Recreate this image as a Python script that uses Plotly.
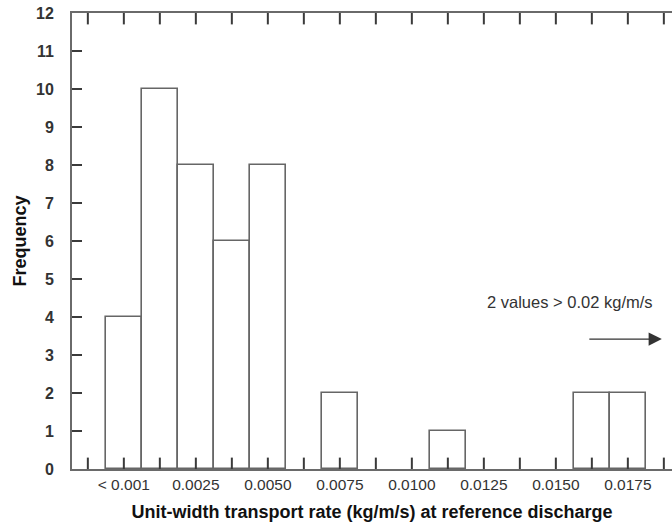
import plotly.graph_objects as go

# Data
bin_centers = [0.0, 0.00125, 0.0025, 0.00375, 0.005, 0.0075, 0.01125, 0.01625, 0.0175]
frequencies = [4, 10, 8, 6, 8, 2, 1, 2, 2]
bin_width = 0.00125

label_vals = [0.0, 0.0025, 0.005, 0.0075, 0.01, 0.0125, 0.015, 0.0175]
label_texts = ["< 0.001", "0.0025", "0.0050", "0.0075", "0.0100", "0.0125", "0.0150", "0.0175"]

# minor ticks every bin width, labels at selected ones
tick_vals = [round(k * bin_width, 6) for k in range(-1, 16)]
tick_texts = []
for v in tick_vals:
    txt = ""
    for lv, lt in zip(label_vals, label_texts):
        if abs(lv - v) < 1e-9:
            txt = lt
    tick_texts.append(txt)

FONT = "Liberation Sans, Arial, Helvetica, sans-serif"
AXC = "#6a6a6a"
TKC = "#3a3a3a"
X_RANGE = [-0.0018, 0.019033]
TICK_H = 0.30  # bottom inside tick length (in y units, ~11 px)

fig = go.Figure()
fig.add_trace(go.Bar(
    x=bin_centers, y=frequencies, width=[bin_width] * len(bin_centers),
    marker=dict(color="white", line=dict(color="#666666", width=1.6)),
    showlegend=False, hoverinfo="x+y",
))

# bottom inside ticks at the axis tick values
for v in tick_vals:
    fig.add_shape(type="line", xref="x", yref="y", x0=v, x1=v, y0=0, y1=TICK_H,
                  line=dict(color=TKC, width=2), layer="above")

fig.update_layout(
    width=672, height=531,
    margin=dict(l=72, r=0, t=13, b=62),
    plot_bgcolor="white", paper_bgcolor="white",
    font=dict(family=FONT, color="#222222"),
    bargap=0,
    xaxis=dict(
        range=X_RANGE,
        tickmode="array", tickvals=tick_vals, ticktext=tick_texts,
        ticks="", 
        showline=True, linecolor=AXC, linewidth=2, mirror=True,
        showgrid=False, zeroline=False,
        tickfont=dict(size=15.5, color="#333333"),
        title=dict(text="<b>Unit-width transport rate (kg/m/s) at reference discharge</b>",
                   font=dict(size=18, color="#111111"), standoff=14),
    ),
    yaxis=dict(
        range=[0, 12], tickmode="linear", tick0=0, dtick=1,
        ticks="inside", ticklen=10, tickwidth=1.5, tickcolor=TKC,
        showline=True, linecolor=AXC, linewidth=2, layer="above traces",
        showgrid=False, zeroline=False,
        tickfont=dict(size=16, color="#333333", weight="bold"),
        ticklabelstandoff=13,
        title=dict(text="<b>Frequency</b>", font=dict(size=18, color="#111111"), standoff=5),
    ),
    annotations=[
        dict(x=0.0155, y=4.4, xref="x", yref="y", text="2 values > 0.02 kg/m/s",
             showarrow=False, font=dict(size=16.5, color="#333333")),
        dict(x=0.01868, y=3.42, xref="x", yref="y", text="", showarrow=True,
             ax=-74, ay=0, arrowhead=2, arrowsize=2.2, arrowwidth=1.2, arrowcolor="#333333"),
    ],
)

# top inside ticks at the same tick values
for v in tick_vals:
    fig.add_shape(type="line", xref="x", yref="y", x0=v, x1=v, y0=12 - TICK_H, y1=12,
                  line=dict(color=TKC, width=2), layer="above")

fig.write_html("out.html")
